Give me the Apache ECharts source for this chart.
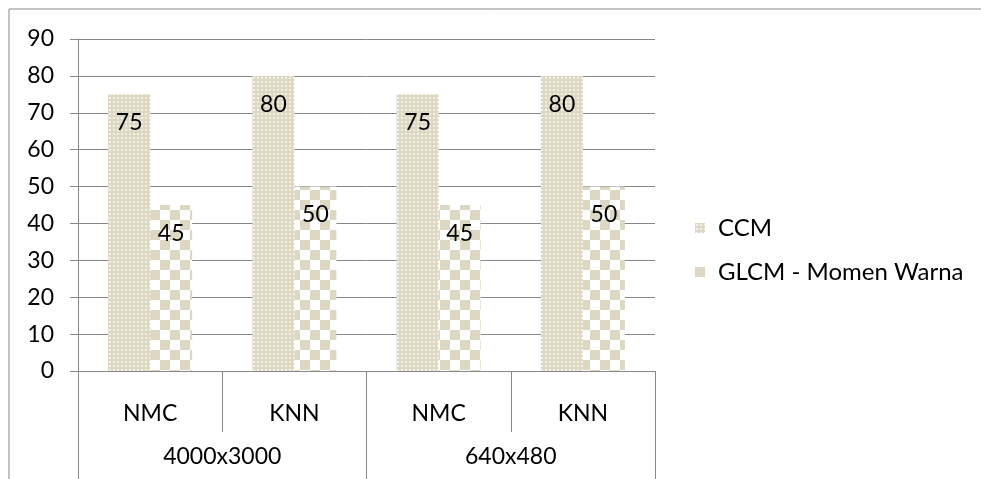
<!DOCTYPE html>
<html>
<head>
<meta charset="utf-8">
<script src="https://cdn.jsdelivr.net/npm/echarts@6/dist/echarts.min.js"></script>
<style>
  html, body { margin: 0; padding: 0; background: #fff; }
  #chart { width: 981px; height: 479px; }
</style>
</head>
<body>
<div id="chart"></div>
<script>
// data
var methods = ["NMC", "KNN", "NMC", "KNN"];
var resolutions = ["4000x3000", "640x480"];
var seriesNames = ["CCM", "GLCM - Momen Warna"];
var ccmValues = [75, 80, 75, 80];
var glcmValues = [45, 50, 45, 50];

var FONT = "Lato";
var GRAY = "#888888";
var FS = 23;

// dotted fill for CCM
function dotPattern() {
  var c = document.createElement("canvas");
  c.width = 4; c.height = 4;
  var ctx = c.getContext("2d");
  ctx.fillStyle = "#dcd8c2";
  ctx.fillRect(0, 0, 4, 4);
  ctx.fillStyle = "#f1efe6";
  ctx.fillRect(1, 1, 2, 2);
  return c;
}
// checkerboard fill for GLCM
function checkPattern() {
  var c = document.createElement("canvas");
  c.width = 20; c.height = 20;
  var ctx = c.getContext("2d");
  ctx.fillStyle = "#ffffff";
  ctx.fillRect(0, 0, 20, 20);
  ctx.fillStyle = "#ddd8c3";
  ctx.fillRect(0, 0, 10, 10);
  ctx.fillRect(10, 10, 10, 10);
  return c;
}

var chart = echarts.init(document.getElementById("chart"));
chart.setOption({
  animation: false,
  backgroundColor: "#fff",
  textStyle: { fontFamily: FONT },
  graphic: [{
    type: "rect",
    shape: { x: 9, y: 9, width: 1000, height: 520 },
    style: { fill: "none", stroke: GRAY, lineWidth: 1 },
    silent: true
  }],
  grid: { left: 78, right: 326, top: 39, bottom: 108 },
  legend: {
    orient: "vertical",
    left: 690,
    top: 211,
    itemWidth: 10,
    itemHeight: 10,
    itemGap: 20,
    icon: "rect",
    textStyle: { fontSize: 24, color: "#000", fontFamily: FONT, padding: [0, 0, 0, 8] },
    data: seriesNames
  },
  xAxis: [{
    type: "category",
    data: methods,
    axisLine: { lineStyle: { color: GRAY, width: 1 } },
    axisTick: { show: true, length: 61, lineStyle: { color: GRAY } },
    axisLabel: { margin: 31, fontSize: FS, color: "#000", fontFamily: FONT }
  }, {
    type: "category",
    position: "bottom",
    data: resolutions,
    axisLine: { show: false },
    axisTick: { show: true, length: 108, lineStyle: { color: GRAY } },
    axisLabel: { margin: 74, fontSize: FS, color: "#000", fontFamily: FONT }
  }],
  yAxis: {
    type: "value",
    min: 0,
    max: 90,
    interval: 10,
    axisLine: { show: true, lineStyle: { color: GRAY } },
    axisTick: { show: true, length: 8, lineStyle: { color: GRAY } },
    splitLine: { lineStyle: { color: GRAY } },
    axisLabel: { margin: 24, fontSize: FS, color: "#000", fontFamily: FONT }
  },
  series: [{
    name: seriesNames[0],
    type: "bar",
    data: ccmValues,
    barWidth: 42,
    barGap: "0%",
    itemStyle: { color: { image: dotPattern(), repeat: "repeat" } },
    label: { show: true, position: "insideTop", distance: 17, fontSize: FS, color: "#000", fontFamily: FONT }
  }, {
    name: seriesNames[1],
    type: "bar",
    data: glcmValues,
    barWidth: 42,
    barGap: "0%",
    itemStyle: { color: { image: checkPattern(), repeat: "repeat" } },
    label: { show: true, position: "insideTop", distance: 17, fontSize: FS, color: "#000", fontFamily: FONT }
  }]
});
</script>
</body>
</html>
